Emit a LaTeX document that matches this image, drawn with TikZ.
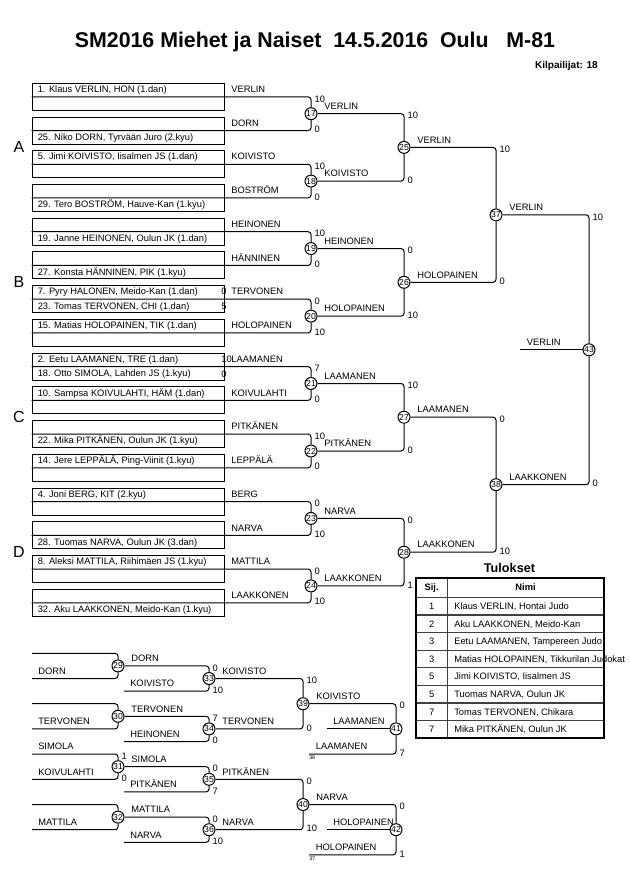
\documentclass[tikz,border=0pt]{standalone}
\usepackage{fontspec}
\setmainfont{Liberation Sans}
\usetikzlibrary{positioning,calc}

\begin{document}
\begin{tikzpicture}[
    x=0.75pt,y=-0.75pt,
    every node/.style={inner sep=0pt,font=\fontsize{7}{8}\selectfont},
    entry/.style={draw,line width=0.75pt,minimum width=144pt,minimum height=20.25pt},
    link/.style={line width=0.75pt,rounded corners=2.2pt},
    uprow/.style={anchor=base west,xshift=4.5pt,yshift=3.2pt},
    lowrow/.style={anchor=base west,xshift=4.5pt,yshift=-7.4pt},
    slot/.style={anchor=base west,xshift=5pt,yshift=3.2pt},
    pre/.style={anchor=west,xshift=-2.5pt},
    hi/.style={anchor=west,xshift=2.5pt,yshift=-1.5pt},
    lo/.style={anchor=west,xshift=2.5pt,yshift=0.8pt},
    bout/.style={circle,draw,fill=white,line width=0.75pt,minimum size=9pt,
      font=\fontsize{6.5}{7}\selectfont},
    pool/.style={font=\fontsize{12}{14}\selectfont},
    feed/.style={anchor=north west,yshift=-1pt,font=\fontsize{4}{5}\selectfont},
    cell/.style={anchor=base,yshift=-2.5pt},
    grid/.style={line width=0.9pt,black!75}
  ]
  \useasboundingbox (0,0) rectangle (630,891);

  \node[anchor=base,font=\bfseries\fontsize{16}{19}\selectfont] (title) at (315,47.3)
    {SM2016 Miehet ja Naiset\ \ 14.5.2016\ \ Oulu\ \ \ M-81};
  \node[anchor=base east,font=\bfseries\fontsize{7.5}{9}\selectfont] (count) at (598,68.5)
    {Kilpailijat: 18};

  \foreach \i in {0,...,15}
    \node[entry] (b\i) at (128,{96.8+33.73*\i}) {};

  \node[uprow] (p0) at (b0.west) {1. Klaus VERLIN, HON (1.dan)};
  \node[lowrow] (p1) at (b1.west) {25. Niko DORN, Tyrvään Juro (2.kyu)};
  \node[uprow] (p2) at (b2.west) {5. Jimi KOIVISTO, Iisalmen JS (1.dan)};
  \node[lowrow] (p3) at (b3.west) {29. Tero BOSTRÖM, Hauve-Kan (1.kyu)};
  \node[lowrow] (p4) at (b4.west) {19. Janne HEINONEN, Oulun JK (1.dan)};
  \node[lowrow] (p5) at (b5.west) {27. Konsta HÄNNINEN, PIK (1.kyu)};
  \node[uprow] (p6a) at (b6.west) {7. Pyry HALONEN, Meido-Kan (1.dan)};
  \node[lowrow] (p6b) at (b6.west) {23. Tomas TERVONEN, CHI (1.dan)};
  \node[uprow] (p7) at (b7.west) {15. Matias HOLOPAINEN, TIK (1.dan)};
  \node[uprow] (p8a) at (b8.west) {2. Eetu LAAMANEN, TRE (1.dan)};
  \node[lowrow] (p8b) at (b8.west) {18. Otto SIMOLA, Lahden JS (1.kyu)};
  \node[uprow] (p9) at (b9.west) {10. Sampsa KOIVULAHTI, HÄM (1.dan)};
  \node[lowrow] (p10) at (b10.west) {22. Mika PITKÄNEN, Oulun JK (1.kyu)};
  \node[uprow] (p11) at (b11.west) {14. Jere LEPPÄLÄ, Ping-Viinit (1.kyu)};
  \node[uprow] (p12) at (b12.west) {4. Joni BERG, KIT (2.kyu)};
  \node[lowrow] (p13) at (b13.west) {28. Tuomas NARVA, Oulun JK (3.dan)};
  \node[uprow] (p14) at (b14.west) {8. Aleksi MATTILA, Riihimäen JS (1.kyu)};
  \node[lowrow] (p15) at (b15.west) {32. Aku LAAKKONEN, Meido-Kan (1.kyu)};

  \node[pre,yshift=5.7pt] (q6a) at (b6.east) {0};
  \node[pre,yshift=-5.7pt] (q6b) at (b6.east) {5};
  \node[pre,yshift=5.7pt] (q8a) at (b8.east) {10};
  \node[pre,yshift=-5.7pt] (q8b) at (b8.east) {0};

  \node[slot] (n0) at (b0.east) {VERLIN};
  \node[slot] (n1) at (b1.east) {DORN};
  \node[slot] (n2) at (b2.east) {KOIVISTO};
  \node[slot] (n3) at (b3.east) {BOSTRÖM};
  \node[slot] (n4) at (b4.east) {HEINONEN};
  \node[slot] (n5) at (b5.east) {HÄNNINEN};
  \node[slot] (n6) at (b6.east) {TERVONEN};
  \node[slot] (n7) at (b7.east) {HOLOPAINEN};
  \node[slot] (n8) at (b8.east) {LAAMANEN};
  \node[slot] (n9) at (b9.east) {KOIVULAHTI};
  \node[slot] (n10) at (b10.east) {PITKÄNEN};
  \node[slot] (n11) at (b11.east) {LEPPÄLÄ};
  \node[slot] (n12) at (b12.east) {BERG};
  \node[slot] (n13) at (b13.east) {NARVA};
  \node[slot] (n14) at (b14.east) {MATTILA};
  \node[slot] (n15) at (b15.east) {LAAKKONEN};

  \node[pool] (gA) at (19,147.4) {A};
  \node[pool] (gB) at (19,282.3) {B};
  \node[pool] (gC) at (19,417.2) {C};
  \node[pool] (gD) at (19,552.2) {D};

  \node[bout] (m17) at (311,113.7) {17};
  \node[bout] (m18) at (311,181.1) {18};
  \node[bout] (m19) at (311,248.6) {19};
  \node[bout] (m20) at (311,316.1) {20};
  \node[bout] (m21) at (311,383.5) {21};
  \node[bout] (m22) at (311,451.0) {22};
  \node[bout] (m23) at (311,518.4) {23};
  \node[bout] (m24) at (311,585.9) {24};
  \node[bout] (m25) at (404,147.4) {25};
  \node[bout] (m26) at (404,282.3) {26};
  \node[bout] (m27) at (404,417.2) {27};
  \node[bout] (m28) at (404,552.2) {28};
  \node[bout] (m37) at (496,214.9) {37};
  \node[bout] (m38) at (496,484.7) {38};
  \node[bout] (m43) at (589,349.8) {43};

  \draw[link] (b0.west) -- (b0.east) -| (m17.north);
  \draw[link] (b1.west) -- (b1.east) -| (m17.south);
  \draw[link] (b2.west) -- (b2.east) -| (m18.north);
  \draw[link] (b3.west) -- (b3.east) -| (m18.south);
  \draw[link] (b4.west) -- (b4.east) -| (m19.north);
  \draw[link] (b5.west) -- (b5.east) -| (m19.south);
  \draw[link] (b6.west) -- (b6.east) -| (m20.north);
  \draw[link] (b7.west) -- (b7.east) -| (m20.south);
  \draw[link] (b8.west) -- (b8.east) -| (m21.north);
  \draw[link] (b9.west) -- (b9.east) -| (m21.south);
  \draw[link] (b10.west) -- (b10.east) -| (m22.north);
  \draw[link] (b11.west) -- (b11.east) -| (m22.south);
  \draw[link] (b12.west) -- (b12.east) -| (m23.north);
  \draw[link] (b13.west) -- (b13.east) -| (m23.south);
  \draw[link] (b14.west) -- (b14.east) -| (m24.north);
  \draw[link] (b15.west) -- (b15.east) -| (m24.south);
  \draw[link] (m17.east) -| (m25.north);
  \draw[link] (m18.east) -| (m25.south);
  \draw[link] (m19.east) -| (m26.north);
  \draw[link] (m20.east) -| (m26.south);
  \draw[link] (m21.east) -| (m27.north);
  \draw[link] (m22.east) -| (m27.south);
  \draw[link] (m23.east) -| (m28.north);
  \draw[link] (m24.east) -| (m28.south);
  \draw[link] (m25.east) -| (m37.north);
  \draw[link] (m26.east) -| (m37.south);
  \draw[link] (m27.east) -| (m38.north);
  \draw[link] (m28.east) -| (m38.south);
  \draw[link] (m37.east) -| (m43.north);
  \draw[link] (m38.east) -| (m43.south);
  \coordinate (fin) at (520,349.8);
  \draw[link] (fin) -- (m43.west);

  \node[hi] (s17a) at (b0.east -| m17) {10};
  \node[lo] (s17b) at (b1.east -| m17) {0};
  \node[hi] (s18a) at (b2.east -| m18) {10};
  \node[lo] (s18b) at (b3.east -| m18) {0};
  \node[hi] (s19a) at (b4.east -| m19) {10};
  \node[lo] (s19b) at (b5.east -| m19) {0};
  \node[hi] (s20a) at (b6.east -| m20) {0};
  \node[lo] (s20b) at (b7.east -| m20) {10};
  \node[hi] (s21a) at (b8.east -| m21) {7};
  \node[lo] (s21b) at (b9.east -| m21) {0};
  \node[hi] (s22a) at (b10.east -| m22) {10};
  \node[lo] (s22b) at (b11.east -| m22) {0};
  \node[hi] (s23a) at (b12.east -| m23) {0};
  \node[lo] (s23b) at (b13.east -| m23) {10};
  \node[hi] (s24a) at (b14.east -| m24) {0};
  \node[lo] (s24b) at (b15.east -| m24) {10};
  \node[hi] (s25a) at (m17 -| m25) {10};
  \node[lo] (s25b) at (m18 -| m25) {0};
  \node[hi] (s26a) at (m19 -| m26) {0};
  \node[lo] (s26b) at (m20 -| m26) {10};
  \node[hi] (s27a) at (m21 -| m27) {10};
  \node[lo] (s27b) at (m22 -| m27) {0};
  \node[hi] (s28a) at (m23 -| m28) {0};
  \node[lo] (s28b) at (m24 -| m28) {1};
  \node[hi] (s37a) at (m25 -| m37) {10};
  \node[lo] (s37b) at (m26 -| m37) {0};
  \node[hi] (s38a) at (m27 -| m38) {0};
  \node[lo] (s38b) at (m28 -| m38) {10};
  \node[hi] (s43a) at (m37 -| m43) {10};
  \node[lo] (s43b) at (m38 -| m43) {0};

  \node[slot] (w17) at (m17.east) {VERLIN};
  \node[slot] (w18) at (m18.east) {KOIVISTO};
  \node[slot] (w19) at (m19.east) {HEINONEN};
  \node[slot] (w20) at (m20.east) {HOLOPAINEN};
  \node[slot] (w21) at (m21.east) {LAAMANEN};
  \node[slot] (w22) at (m22.east) {PITKÄNEN};
  \node[slot] (w23) at (m23.east) {NARVA};
  \node[slot] (w24) at (m24.east) {LAAKKONEN};
  \node[slot] (w25) at (m25.east) {VERLIN};
  \node[slot] (w26) at (m26.east) {HOLOPAINEN};
  \node[slot] (w27) at (m27.east) {LAAMANEN};
  \node[slot] (w28) at (m28.east) {LAAKKONEN};
  \node[slot] (w37) at (m37.east) {VERLIN};
  \node[slot] (w38) at (m38.east) {LAAKKONEN};
  \node[slot] (w43) at (fin) {VERLIN};

  \coordinate (r0) at (32,653.3);
  \coordinate (r1) at (32,678.5);
  \coordinate (r2) at (32,703.7);
  \coordinate (r3) at (32,728.9);
  \coordinate (r4) at (32,754.1);
  \coordinate (r5) at (32,779.3);
  \coordinate (r6) at (32,804.5);
  \coordinate (r7) at (32,829.7);
  \coordinate (e33) at (124,691.1);
  \coordinate (e34) at (124,741.5);
  \coordinate (e35) at (124,791.9);
  \coordinate (e36) at (124,842.3);
  \coordinate (e41) at (309,754.1);
  \coordinate (e42) at (309,854.9);
  \coordinate (f41) at (327,728.9);
  \coordinate (f42) at (327,829.7);

  \node[bout] (m29) at (118,665.9) {29};
  \node[bout] (m30) at (118,716.3) {30};
  \node[bout] (m31) at (118,766.7) {31};
  \node[bout] (m32) at (118,817.1) {32};
  \node[bout] (m33) at (209,678.5) {33};
  \node[bout] (m34) at (209,728.9) {34};
  \node[bout] (m35) at (209,779.3) {35};
  \node[bout] (m36) at (209,829.7) {36};
  \node[bout] (m39) at (303,703.7) {39};
  \node[bout] (m40) at (303,804.5) {40};
  \node[bout] (m41) at (396,728.9) {41};
  \node[bout] (m42) at (396,829.7) {42};

  \draw[link] (r0) -| (m29.north);
  \draw[link] (r1) -| (m29.south);
  \draw[link] (r2) -| (m30.north);
  \draw[link] (r3) -| (m30.south);
  \draw[link] (r4) -| (m31.north);
  \draw[link] (r5) -| (m31.south);
  \draw[link] (r6) -| (m32.north);
  \draw[link] (r7) -| (m32.south);
  \draw[link] (m29.east) -| (m33.north);
  \draw[link] (e33) -| (m33.south);
  \draw[link] (m30.east) -| (m34.north);
  \draw[link] (e34) -| (m34.south);
  \draw[link] (m31.east) -| (m35.north);
  \draw[link] (e35) -| (m35.south);
  \draw[link] (m32.east) -| (m36.north);
  \draw[link] (e36) -| (m36.south);
  \draw[link] (m33.east) -| (m39.north);
  \draw[link] (m34.east) -| (m39.south);
  \draw[link] (m35.east) -| (m40.north);
  \draw[link] (m36.east) -| (m40.south);
  \draw[link] (m39.east) -| (m41.north);
  \draw[link] (e41) -| (m41.south);
  \draw[link] (m40.east) -| (m42.north);
  \draw[link] (e42) -| (m42.south);
  \draw[link] (f41) -- (m41.west);
  \draw[link] (f42) -- (m42.west);

  \node[slot,xshift=-0.5pt] (k1) at (r1) {DORN};
  \node[slot,xshift=-0.5pt] (k3) at (r3) {TERVONEN};
  \node[slot,xshift=-0.5pt] (k4) at (r4) {SIMOLA};
  \node[slot,xshift=-0.5pt] (k5) at (r5) {KOIVULAHTI};
  \node[slot,xshift=-0.5pt] (k7) at (r7) {MATTILA};
  \node[slot] (w29) at (m29.east) {DORN};
  \node[slot,xshift=-0.5pt] (k33) at (e33) {KOIVISTO};
  \node[slot] (w30) at (m30.east) {TERVONEN};
  \node[slot,xshift=-0.5pt] (k34) at (e34) {HEINONEN};
  \node[slot] (w31) at (m31.east) {SIMOLA};
  \node[slot,xshift=-0.5pt] (k35) at (e35) {PITKÄNEN};
  \node[slot] (w32) at (m32.east) {MATTILA};
  \node[slot,xshift=-0.5pt] (k36) at (e36) {NARVA};
  \node[slot] (w33) at (m33.east) {KOIVISTO};
  \node[slot] (w34) at (m34.east) {TERVONEN};
  \node[slot] (w35) at (m35.east) {PITKÄNEN};
  \node[slot] (w36) at (m36.east) {NARVA};
  \node[slot] (w39) at (m39.east) {KOIVISTO};
  \node[slot] (k41) at (e41) {LAAMANEN};
  \node[slot,xshift=-0.5pt] (w41) at (f41) {LAAMANEN};
  \node[slot] (w40) at (m40.east) {NARVA};
  \node[slot] (k42) at (e42) {HOLOPAINEN};
  \node[slot,xshift=-0.5pt] (w42) at (f42) {HOLOPAINEN};
  \node[feed] (src41) at (e41) {38};
  \node[feed] (src42) at (e42) {37};

  \node[hi] (s31a) at (r4 -| m31) {1};
  \node[lo] (s31b) at (r5 -| m31) {0};
  \node[hi] (s33a) at (m29 -| m33) {0};
  \node[lo] (s33b) at (e33 -| m33) {10};
  \node[hi] (s34a) at (m30 -| m34) {7};
  \node[lo] (s34b) at (e34 -| m34) {0};
  \node[hi] (s35a) at (m31 -| m35) {0};
  \node[lo] (s35b) at (e35 -| m35) {7};
  \node[hi] (s36a) at (m32 -| m36) {0};
  \node[lo] (s36b) at (e36 -| m36) {10};
  \node[hi] (s39a) at (m33 -| m39) {10};
  \node[lo] (s39b) at (m34 -| m39) {0};
  \node[hi] (s40a) at (m35 -| m40) {0};
  \node[lo] (s40b) at (m36 -| m40) {10};
  \node[hi] (s41a) at (m39 -| m41) {0};
  \node[lo] (s41b) at (e41 -| m41) {7};
  \node[hi] (s42a) at (m40 -| m42) {0};
  \node[lo] (s42b) at (e42 -| m42) {1};

  \node[anchor=base,font=\bfseries\fontsize{9.5}{11}\selectfont] (tulos) at (509.5,572.7) {Tulokset};
  \draw[grid] (447.3,577.7) -- (447.3,738.1);
  \foreach \y in {597.3,614.9,632.5,650.1,667.7,685.3,702.9,720.5}
    \draw[grid] (416,\y) -- (604,\y);
  \draw[line width=1.5pt] (416,577.7) rectangle (604,738.1);
  \node[cell,font=\bfseries\fontsize{7}{8}\selectfont] (sij) at (431.6,587.5) {Sij.};
  \node[cell,font=\bfseries\fontsize{7}{8}\selectfont] (nimi) at (525.6,587.5) {Nimi};
  \foreach \k/\s/\n in {1/1/{Klaus VERLIN, Hontai Judo},
      2/2/{Aku LAAKKONEN, Meido-Kan},
      3/3/{Eetu LAAMANEN, Tampereen Judo},
      4/3/{Matias HOLOPAINEN, Tikkurilan Judokat},
      5/5/{Jimi KOIVISTO, Iisalmen JS},
      6/5/{Tuomas NARVA, Oulun JK},
      7/7/{Tomas TERVONEN, Chikara},
      8/7/{Mika PITKÄNEN, Oulun JK}}{
    \node[cell] (sij\k) at (431.6,{588.5+17.6*\k}) {\s};
    \node[cell,anchor=base west] (nimi\k) at (454,{588.5+17.6*\k}) {\n};
  }
\end{tikzpicture}
\end{document}
